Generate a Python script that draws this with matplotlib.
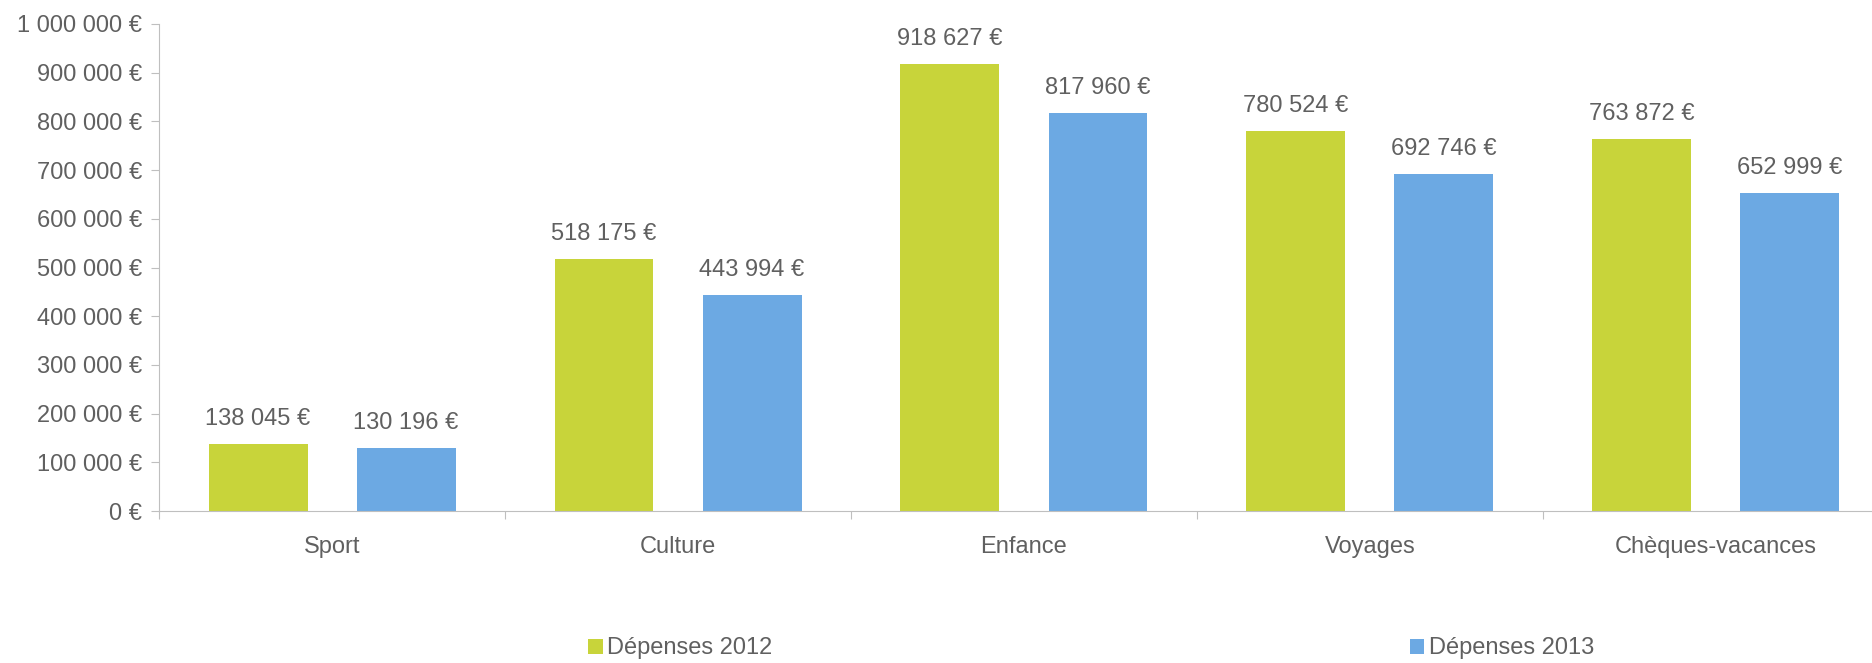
import matplotlib.pyplot as plt
import numpy as np

# Data
categories = ['Sport', 'Culture', 'Enfance', 'Voyages', 'Chèques-vacances']
depenses_2012 = [138045, 518175, 918627, 780524, 763872]
depenses_2013 = [130196, 443994, 817960, 692746, 652999]
series_labels = ['Dépenses 2012', 'Dépenses 2013']
colors = ['#C8D43A', '#6CA9E3']
text_color = '#606060'
axis_color = '#BFBFBF'


def euro(v):
    return f'{int(v):,}'.replace(',', ' ') + ' €'


plt.rcParams['font.family'] = ['Liberation Sans', 'DejaVu Sans']

fig = plt.figure(figsize=(18.72, 6.63), dpi=100)
ax = fig.add_axes([0.085, 0.229, 0.924, 0.735])

x = np.arange(len(categories))
width = 0.286
offset = 0.214

bars1 = ax.bar(x - offset, depenses_2012, width, color=colors[0], label=series_labels[0])
bars2 = ax.bar(x + offset, depenses_2013, width, color=colors[1], label=series_labels[1])

# Value labels above bars
for bars in (bars1, bars2):
    for b in bars:
        ax.annotate(euro(b.get_height()), (b.get_x() + b.get_width() / 2, b.get_height()),
                    xytext=(0, 10), textcoords='offset points', ha='center', va='bottom',
                    fontsize=17, color=text_color)

ax.set_xlim(-0.5, len(categories) - 0.5)
ax.set_ylim(0, 1000000)
ax.set_yticks(np.arange(0, 1000001, 100000))
ax.set_yticklabels([euro(v) for v in np.arange(0, 1000001, 100000)])

# category separators as major ticks, names as minor ticks
ax.set_xticks(np.arange(-0.5, len(categories), 1))
ax.set_xticklabels([])
ax.set_xticks(x, minor=True)
ax.set_xticklabels(categories, minor=True)
ax.tick_params(axis='x', which='major', length=6, color=axis_color, direction='out')
ax.tick_params(axis='x', which='minor', length=0, pad=18, labelsize=17, labelcolor=text_color)
ax.tick_params(axis='y', length=6, color=axis_color, labelsize=17, labelcolor=text_color, pad=6)

for side in ['top', 'right']:
    ax.spines[side].set_visible(False)
for side in ['left', 'bottom']:
    ax.spines[side].set_color(axis_color)

fig.legend(loc='center', bbox_to_anchor=(0.583, 0.022), ncol=2, frameon=False,
           fontsize=17, labelcolor=text_color, handlelength=0.6, handleheight=0.6,
           handletextpad=0.2, columnspacing=27)

plt.savefig('out.png', dpi=100)
